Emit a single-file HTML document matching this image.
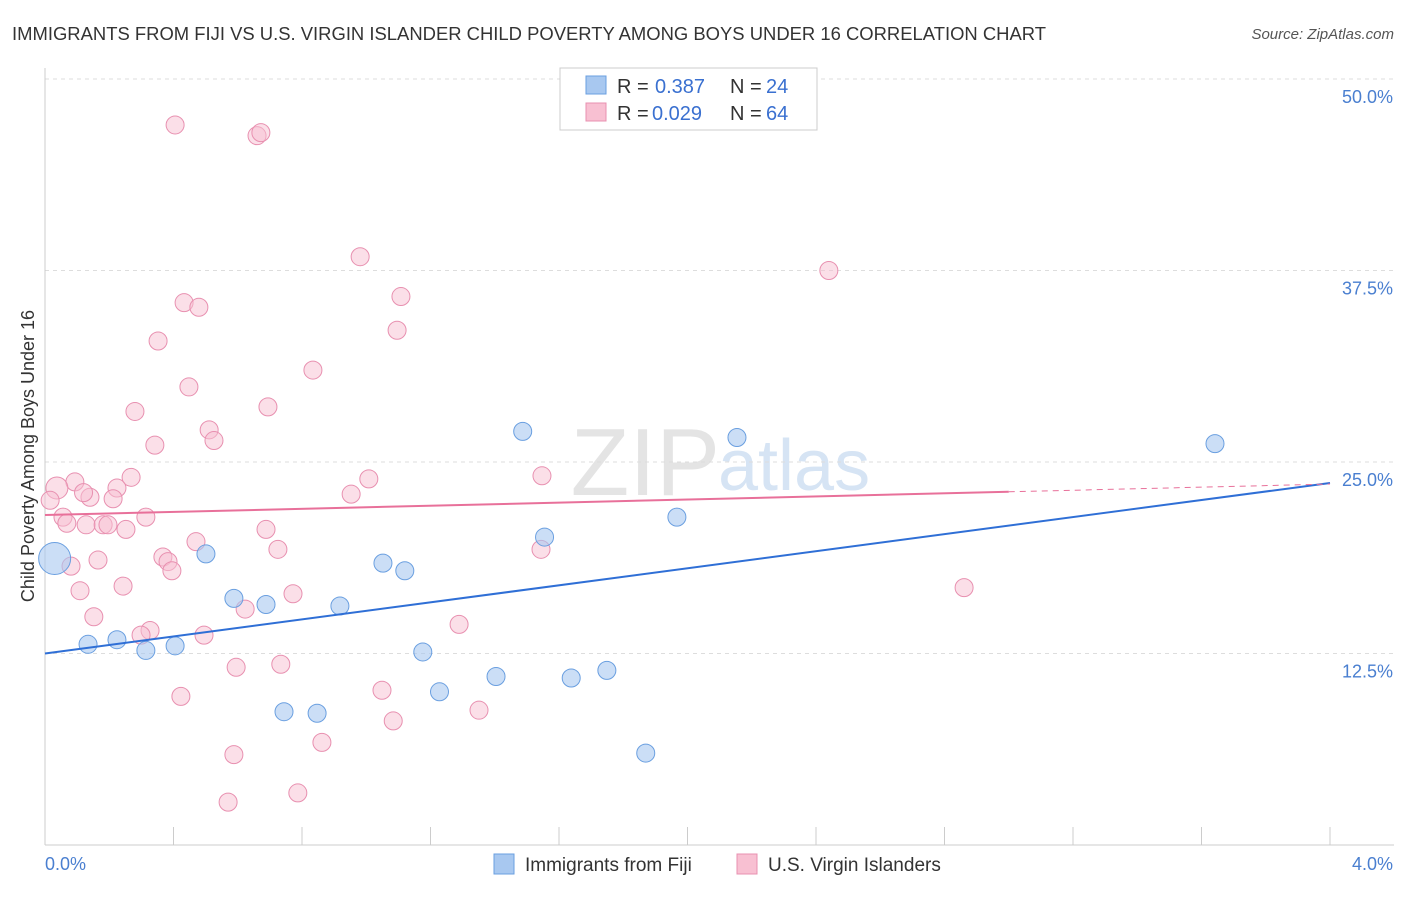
<!DOCTYPE html>
<html><head><meta charset="utf-8"><style>
body{margin:0;background:#fff;font-family:"Liberation Sans",sans-serif;}
svg text{font-family:"Liberation Sans",sans-serif;}
</style></head><body>
<svg id="c" width="1406" height="892">
<text x="12" y="40" font-size="18" fill="#333" textLength="1034" lengthAdjust="spacingAndGlyphs">IMMIGRANTS FROM FIJI VS U.S. VIRGIN ISLANDER CHILD POVERTY AMONG BOYS UNDER 16 CORRELATION CHART</text>
<text x="1394" y="39" font-size="15" fill="#555" text-anchor="end" font-style="italic">Source: ZipAtlas.com</text>
<text x="720" y="495" font-size="96" fill="#e4e4e4" text-anchor="end" font-family="Liberation Serif">ZIP</text>
<text x="718" y="490" font-size="72" fill="#d6e4f4">atlas</text>
<text transform="translate(34,456) rotate(-90)" font-size="18" fill="#333" text-anchor="middle">Child Poverty Among Boys Under 16</text>
<g id="grid"></g><g id="marks"></g>
<g>
<rect x="560" y="68" width="257" height="62" fill="#fff" stroke="#ccc"/>
<rect x="586" y="76" width="20" height="18" fill="#a8c8f0" stroke="#6a9fe0"/>
<rect x="586" y="103" width="20" height="18" fill="#f8c0d2" stroke="#e890b0"/>
<text x="617" y="93" font-size="20" fill="#333">R =</text><text x="655" y="93" font-size="20" fill="#3a70d0">0.387</text>
<text x="730" y="93" font-size="20" fill="#333">N =</text><text x="766" y="93" font-size="20" fill="#3a70d0">24</text>
<text x="617" y="120" font-size="20" fill="#333">R =</text><text x="652" y="120" font-size="20" fill="#3a70d0">0.029</text>
<text x="730" y="120" font-size="20" fill="#333">N =</text><text x="766" y="120" font-size="20" fill="#3a70d0">64</text>
</g>
<g>
<rect x="494" y="854" width="20" height="20" fill="#a8c8f0" stroke="#6a9fe0"/>
<text x="525" y="871" font-size="19" fill="#333">Immigrants from Fiji</text>
<rect x="737" y="854" width="20" height="20" fill="#f8c0d2" stroke="#e890b0"/>
<text x="768" y="871" font-size="19" fill="#333">U.S. Virgin Islanders</text>
</g>
</svg>
<script>
const xTicks=[0,0.4,0.8,1.2,1.6,2.0,2.4,2.8,3.2,3.6,4.0];
const yTicks=[12.5,25,37.5,50];
const yTickLabels=["12.5%","25.0%","37.5%","50.0%"];
const fijiX=[0.03,0.134,0.224,0.314,0.405,0.501,0.588,0.688,0.744,0.847,0.918,1.052,1.12,1.176,1.228,1.404,1.487,1.555,1.638,1.749,1.87,1.967,2.154,3.642];
const fijiY=[18.7,13.1,13.4,12.7,13.0,19.0,16.1,15.7,8.7,8.6,15.6,18.4,17.9,12.6,10.0,11.0,27.0,20.1,10.9,11.4,6.0,21.4,26.6,26.2];
const fijiR=[16,9,9,9,9,9,9,9,9,9,9,9,9,9,9,9,9,9,9,9,9,9,9,9];
const viX=[0.405,0.66,0.672,0.981,2.44,1.108,0.433,0.479,1.096,0.352,0.834,0.448,0.28,0.694,0.511,0.526,0.342,1.547,1.008,0.268,0.093,0.037,0.224,0.14,0.212,0.953,0.016,0.314,0.056,0.068,0.128,0.181,0.196,0.252,0.688,0.47,0.725,1.544,0.367,0.383,0.165,0.081,0.395,0.243,0.109,0.772,2.861,0.152,0.623,1.289,0.327,0.299,0.495,0.595,0.734,1.049,0.423,1.084,1.351,0.862,0.588,0.787,0.57,0.12];
const viY=[47.0,46.3,46.5,38.4,37.5,35.8,35.4,35.1,33.6,32.9,31.0,29.9,28.3,28.6,27.1,26.4,26.1,24.1,23.9,24.0,23.7,23.3,23.3,22.7,22.6,22.9,22.5,21.4,21.4,21.0,20.9,20.9,20.9,20.6,20.6,19.8,19.3,19.3,18.8,18.5,18.6,18.2,17.9,16.9,16.6,16.4,16.8,14.9,15.4,14.4,14.0,13.7,13.7,11.6,11.8,10.1,9.7,8.1,8.8,6.7,5.9,3.4,2.8,23.0];
const viR=[9,9,9,9,9,9,9,9,9,9,9,9,9,9,9,9,9,9,9,9,9,11,9,9,9,9,9,9,9,9,9,9,9,9,9,9,9,9,9,9,9,9,9,9,9,9,9,9,9,9,9,9,9,9,9,9,9,9,9,9,9,9,9,9];
const fijiLine=[12.5,23.63];
const viLine=[21.54,23.56];
const viSolidEnd=3.0;
const X=v=>45+v/4*1285, Y=v=>845-v*15.32;
const NS="http://www.w3.org/2000/svg";
function mk(t,a,p){const e=document.createElementNS(NS,t);for(const k in a)e.setAttribute(k,a[k]);p.appendChild(e);return e;}
const g=document.getElementById('grid'),m=document.getElementById('marks');
yTicks.forEach((t,i)=>{
 const l=mk('line',{x1:45,x2:1394,y1:Y(t),y2:Y(t),stroke:'#ddd','stroke-dasharray':'4,4'},g);
 
 
 const tx=mk('text',{x:1393,y:Y(t)+24,'font-size':18,fill:'#4a7fd0','text-anchor':'end'},g);
 tx.textContent=yTickLabels[i];
 
 
});
const ax=mk('line',{x1:45,x2:1394,y1:845,y2:845,stroke:'#ccc'},g);


const ay=mk('line',{x1:45,x2:45,y1:68,y2:845,stroke:'#ccc'},g);


xTicks.forEach(t=>{
 const l=mk('line',{x1:X(t),x2:X(t),y1:827,y2:845,stroke:'#ccc'},g);
 
 
});
[[0,'0.0%','start',45],[4,'4.0%','end',1393]].forEach(d=>{
 const tx=mk('text',{x:d[3],y:870,'font-size':18,fill:'#4a7fd0','text-anchor':d[2]},g);
 tx.textContent=d[1];
 
 
});
viX.forEach((v,i)=>{
 const c=mk('circle',{cx:X(v),cy:Y(viY[i]),r:viR[i],fill:'#f8c0d2','fill-opacity':0.5,stroke:'#e890b0','stroke-width':1},m);
 
 
});
fijiX.forEach((v,i)=>{
 const c=mk('circle',{cx:X(v),cy:Y(fijiY[i]),r:fijiR[i],fill:'#a8c8f0','fill-opacity':0.6,stroke:'#6a9fe0','stroke-width':1},m);
 
 
});
const bl=mk('line',{x1:X(0),y1:Y(fijiLine[0]),x2:X(4),y2:Y(fijiLine[1]),stroke:'#2f6fd6','stroke-width':2},m);


const vm=viLine[0]+(viLine[1]-viLine[0])*viSolidEnd/4;
const pl=mk('line',{x1:X(0),y1:Y(viLine[0]),x2:X(viSolidEnd),y2:Y(vm),stroke:'#e8709a','stroke-width':2},m);


const pd=mk('line',{x1:X(viSolidEnd),y1:Y(vm),x2:X(4),y2:Y(viLine[1]),stroke:'#e8709a','stroke-width':1,'stroke-dasharray':'6,5'},m);


</script>
</body></html>
